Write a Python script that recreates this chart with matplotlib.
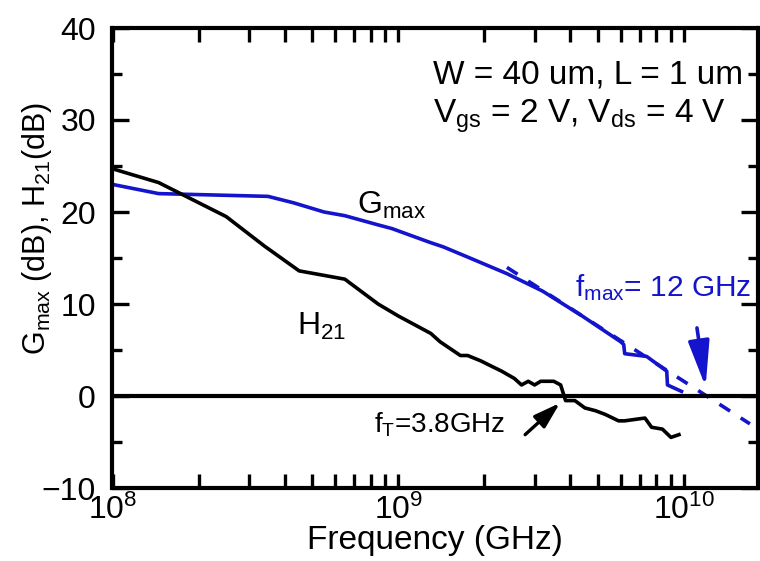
import matplotlib
matplotlib.use("Agg")
import matplotlib.pyplot as plt
import numpy as np
from matplotlib.ticker import LogLocator, MultipleLocator

plt.rcParams['font.family'] = ['Liberation Sans', 'DejaVu Sans']
plt.rcParams['mathtext.default'] = 'regular'

# measured Gmax (dB) vs frequency (Hz)
gmax_f = [1.0e8, 1.45e8, 3.5e8, 4.3e8, 5.5e8, 6.5e8, 8.5e8, 9.5e8, 1.29e9,
          1.44e9, 1.75e9, 2.4e9, 3.2e9, 4.4e9, 6.0e9, 6.15e9, 6.2e9, 7.4e9,
          8.7e9, 8.75e9, 9.8e9]
gmax_db = [23.0, 22.0, 21.7, 21.0, 20.0, 19.6, 18.6, 18.2, 16.7,
           16.2, 15.1, 13.3, 11.4, 8.7, 5.9, 5.6, 4.6, 4.3,
           2.7, 1.2, 0.5]

# measured H21 (dB) vs frequency (Hz)
h21_f = [1.0e8, 1.45e8, 2.5e8, 3.4e8, 4.5e8, 6.5e8, 8.5e8, 1.0e9, 1.3e9,
         1.4e9, 1.65e9, 1.75e9, 1.95e9, 2.1e9, 2.3e9, 2.55e9, 2.7e9, 2.85e9,
         3.0e9, 3.15e9, 3.5e9, 3.7e9, 3.85e9, 4.15e9, 4.5e9, 4.9e9, 5.3e9,
         5.9e9, 6.2e9, 6.9e9, 7.3e9, 7.7e9, 8.4e9, 9.0e9, 9.6e9]
h21_db = [24.7, 23.2, 19.5, 16.3, 13.6, 12.7, 10.0, 8.7, 6.8,
          5.9, 4.4, 4.4, 3.8, 3.3, 2.7, 1.9, 1.2, 1.6,
          1.2, 1.6, 1.6, 1.2, -0.5, -0.5, -1.3, -1.6, -2.0,
          -2.7, -2.7, -2.5, -2.4, -3.4, -3.6, -4.5, -4.2]

# -20 dB/dec extrapolation to unity gain
fmax = 12e9
ext_f = np.array([2.4e9, 1.7e10])
ext_db = 20 * np.log10(fmax / ext_f)

blue = '#1414cc'

fig = plt.figure(figsize=(7.6, 5.61), dpi=100)
ax = fig.add_axes([112.5 / 760, 73 / 561, 645.5 / 760, 460 / 561])

ax.plot(ext_f, ext_db, color=blue, lw=2.6, ls=(0, (3.5, 3.5)))
ax.plot(gmax_f, gmax_db, color=blue, lw=2.6)
ax.plot(h21_f, h21_db, color='black', lw=2.6)
ax.axhline(0, color='black', lw=3)

ax.set_xscale('log')
ax.set_xlim(1e8, 1.815e10)
ax.set_ylim(-10, 40)

ax.yaxis.set_major_locator(MultipleLocator(10))
ax.yaxis.set_minor_locator(MultipleLocator(5))
ax.xaxis.set_major_locator(LogLocator(base=10))
ax.xaxis.set_minor_locator(LogLocator(base=10, subs=np.arange(2, 10)))
ax.xaxis.set_minor_formatter(plt.NullFormatter())

ax.tick_params(which='both', direction='in', top=True, right=True,
               width=2.4, labelsize=23, colors='black')
ax.tick_params(axis='y', which='major', length=12, pad=12)
ax.tick_params(axis='y', which='minor', length=7)
ax.tick_params(axis='x', which='both', length=10, pad=5)
for sp in ax.spines.values():
    sp.set_linewidth(3)

ax.set_xlabel('Frequency (GHz)', fontsize=24, labelpad=-1)
ax.set_ylabel('G$_{max}$ (dB), H$_{21}$(dB)', fontsize=22)
ax.yaxis.set_label_coords(-0.09, 0.565)

ax.text(1.32e9, 34.0, 'W = 40 um, L = 1 um', fontsize=24, va='baseline')
ax.text(1.32e9, 29.7, 'V$_{gs}$ = 2 V, V$_{ds}$ = 4 V', fontsize=24, va='baseline')
ax.text(7.2e8, 19.8, 'G$_{max}$', fontsize=23, va='baseline')
ax.text(4.44e8, 6.6, 'H$_{21}$', fontsize=23, va='baseline')
ax.text(4.16e9, 10.8, 'f$_{max}$= 12 GHz', fontsize=21.5, color=blue, va='baseline')

ax.annotate('', xy=(1.19e10, 1.0), xytext=(1.11e10, 7.4),
            arrowprops=dict(arrowstyle='-|>,head_length=2.8,head_width=0.65',
                            mutation_scale=10, color=blue, lw=2.6,
                            shrinkA=0, shrinkB=0))
ax.text(8.2e8, -4.0, 'f$_T$=3.8GHz', fontsize=20, va='baseline')
ax.annotate('', xy=(3.68e9, -0.76), xytext=(2.78e9, -4.2),
            arrowprops=dict(arrowstyle='-|>,head_length=1.6,head_width=0.5',
                            mutation_scale=10, color='black', lw=2.4,
                            shrinkA=0, shrinkB=0))

fig.savefig('out.png', dpi=100)
